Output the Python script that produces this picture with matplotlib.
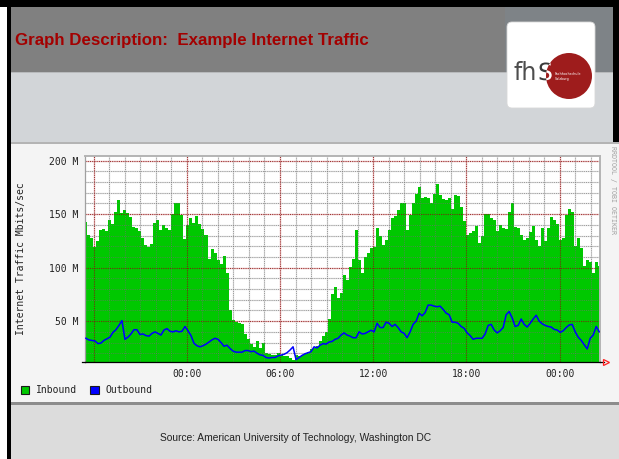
import numpy as np
import matplotlib
matplotlib.use("Agg")
import matplotlib.pyplot as plt
from matplotlib.patches import Rectangle, FancyBboxPatch, Circle, PathPatch
from matplotlib.textpath import TextPath
from matplotlib.font_manager import FontProperties
from matplotlib.transforms import Affine2D

# ---------------- data ----------------
# hours relative to 18:00 of the first day, one sample roughly every 11.6 minutes
inbound = [143, 131, 128, 119, 125, 135, 136, 134, 145, 141, 152, 163, 151, 154, 151, 147, 138, 137, 134, 128,
           121, 119, 122, 142, 145, 135, 140, 137, 135, 150, 160, 160, 149, 127, 140, 146, 142, 148, 141, 136,
           131, 108, 117, 114,
           107, 103, 111, 95, 60, 51, 49, 48, 47, 38, 33, 29, 26, 31, 25, 30, 20, 19, 18, 18,
           20, 18, 17, 17, 16, 14, 18, 17, 18, 19, 21, 23.5, 25, 26.6, 31, 36, 40, 52, 75, 82,
           72, 76, 93,
           88, 101, 108, 135, 107, 95, 110, 114, 118, 119, 137, 130, 121, 126, 135, 146, 148, 154, 160, 160,
           135, 149, 160, 169, 175, 165, 166, 165, 160, 169, 178, 168, 164, 163, 165, 155, 168, 167, 157, 144,
           131, 132, 134,
           139, 123, 130, 150, 150, 146, 144.5, 134, 140, 137, 136, 152, 160, 138, 137, 131, 126, 128, 133, 139,
           126, 120, 137, 125, 137, 147, 145, 141, 126, 128, 149, 155, 152, 120, 128, 118, 102, 107, 105, 95,
           105, 102]
outbound = [34, 32.4, 32, 31.5, 29, 29.5, 32, 33.5, 35, 39.5, 42, 46, 50.5, 33, 35, 38, 42, 42, 37.5, 38,
            36.5, 36, 38.5, 40, 38.5, 37, 41.7, 43, 40.5, 40, 41, 40, 40.5, 45, 41, 36.5, 29.3, 27, 26, 27,
            28.5, 30.5, 32.5, 34,
            33, 30, 26.5, 27.5, 24.5, 22, 21, 21, 21, 22.5, 22.5, 21.5, 22, 20, 18.5, 18, 16, 15.5, 16, 16,
            17.5, 18.3, 19, 20.5, 23, 26, 14, 16, 18, 19.5, 20.5, 21.5, 26, 25, 27.5, 29, 28.5, 30.5, 31, 33,
            34, 37, 39,
            37, 36, 34.5, 34.5, 40, 38, 38.5, 40, 41.5, 40, 48, 44, 44, 49, 48, 45, 47, 44, 40, 38.6,
            34.5, 40, 47, 50, 57.4, 55, 58, 65, 65, 64, 63.5, 64, 61, 57.5, 56, 49, 49, 48, 45, 43.3,
            39, 36.5, 33,
            34, 34, 34, 38, 46, 47, 41.7, 39, 41, 44, 56, 59, 53, 45, 46, 52, 47, 44.5, 48, 52,
            55.5, 50, 47.5, 46, 45, 44.5, 42.3, 41.7, 39.5, 41, 44, 46.4, 47, 40, 35, 32, 28, 24, 34, 37,
            45, 40]
hours = np.linspace(-0.49, 32.55, len(inbound))

series_names = ["Inbound", "Outbound"]
x_major = [0, 6, 12, 18, 24, 30]
x_label_pos = [6, 12, 18, 24, 30]
x_labels = ["00:00", "06:00", "12:00", "18:00", "00:00"]
y_major = [50, 100, 150, 200]
y_labels = ["50 M", "100 M", "150 M", "200 M"]
y_minor = [20, 30, 40, 60, 70, 80, 90, 110, 120, 130, 140, 160, 170, 180, 190]
x_minor = [h for h in range(1, 33) if h % 6 != 0]

title = "Graph Description:  Example Internet Traffic"
source = "Source: American University of Technology, Washington DC"
ylabel = "Internet Traffic Mbits/sec"

GREEN = "#00c800"
BLUE = "#0000ff"
MONO = "DejaVu Sans Mono"

# ---------------- figure & slide background ----------------
W, H = 619, 459
fig = plt.figure(figsize=(W / 100, H / 100), dpi=100)
fig.patch.set_facecolor("white")
bg = fig.add_axes([0, 0, 1, 1])
bg.set_xlim(0, W)
bg.set_ylim(H, 0)
bg.axis("off")

def rect(x0, y0, x1, y1, color, z=0):
    bg.add_patch(Rectangle((x0, y0), x1 - x0, y1 - y0, facecolor=color, edgecolor="none", zorder=z))

rect(0, 0, W, 7, "black")
rect(7, 0, 11, H, "black")
rect(613, 0, W, 143, "black")
rect(11, 7, 613, 72, "#808080")
rect(505, 7, 613, 72, "#7e8387")
rect(11, 72, 613, 73, "#b8babc")
rect(11, 73, 613, 142, "#d2d5d8")
rect(11, 142, W, 143.5, "#b4b4b4")
rect(11, 143.5, W, 402, "#f4f4f4")
rect(11, 402, W, 404.5, "#8c8c8c")
rect(11, 404.5, W, H, "#dcdcdc")

bg.text(15, 40, title, fontsize=12.2, fontweight="bold", color="#a30000",
        family="Liberation Sans", ha="left", va="center")

# logo
bg.add_patch(FancyBboxPatch((507, 22), 88, 86, boxstyle="round,pad=0,rounding_size=5",
                            facecolor="white", edgecolor="#d8d8d8", linewidth=0.6, zorder=1))
bg.text(513, 80, "fh", fontsize=17, color="#4d4d4d", family="DejaVu Sans",
        ha="left", va="baseline", zorder=2)
fp = FontProperties(family="DejaVu Sans")
s_path = TextPath((0, 0), "S", size=23.6, prop=fp)
s_tr = Affine2D().scale(1, -1).translate(538, 80) + bg.transData
bg.add_patch(PathPatch(s_path, transform=s_tr, facecolor="#3a3a3a", edgecolor="none", zorder=2))
circ = Circle((569, 76), 23, facecolor="#9e1c1c", edgecolor="none", zorder=3)
bg.add_patch(circ)
s_white = PathPatch(s_path, transform=s_tr, facecolor="white", edgecolor="none", zorder=4)
bg.add_patch(s_white)
s_white.set_clip_path(circ)
bg.text(555, 74, "Fachhochschule", fontsize=2.4, color="white", ha="left", va="center", zorder=5)
bg.text(555, 79, "Salzburg", fontsize=2.4, color="white", ha="left", va="center", zorder=5)

bg.text(296, 438, source, fontsize=7.4, color="#222222", family="Liberation Sans",
        ha="center", va="center")

# RRDtool side text
bg.text(613, 146, "RRDTOOL / TOBI OETIKER", rotation=-90, fontsize=4.8, color="#a0a0a0",
        family=MONO, ha="center", va="top")

# y label
bg.text(21, 259, ylabel, rotation=90, fontsize=7, family=MONO, color="#222222",
        ha="center", va="center")

# legend
leg_colors = [GREEN, BLUE]
leg_x = [20.7, 90]
for name, c, lx in zip(series_names, leg_colors, leg_x):
    bg.add_patch(Rectangle((lx, 385.5), 8.6, 8.6, facecolor=c, edgecolor="#1a1a1a",
                           linewidth=0.8, zorder=2))
    bg.text(lx + 15.3, 390, name, fontsize=7, family=MONO, color="#222222",
            ha="left", va="center")

# ---------------- chart ----------------
ax = fig.add_axes([85 / W, (H - 362) / H, 515 / W, 206 / H])
ax.set_facecolor("white")
ax.set_xlim(-0.55, 32.6)
ax.set_ylim(11.8, 204.4)

ax.fill_between(hours, 0, inbound, step="mid", color=GREEN, linewidth=0, zorder=1)

for y in y_minor:
    ax.axhline(y, color="#e2e2e2", lw=1.0, zorder=0.5)
    ax.axhline(y, color="#707070", lw=0.7, dashes=(1, 1.2), alpha=0.65, zorder=2)
for x in x_minor:
    ax.axvline(x, color="#e2e2e2", lw=1.0, zorder=0.5)
    ax.axvline(x, color="#707070", lw=0.7, dashes=(1, 1.2), alpha=0.65, zorder=2)
for y in y_major:
    ax.axhline(y, color="#ecc8c8", lw=1.0, zorder=0.5)
    ax.axhline(y, color="#8b1010", lw=0.8, dashes=(1, 1), alpha=0.8, zorder=2)
for x in x_major:
    ax.axvline(x, color="#ecc8c8", lw=1.0, zorder=0.5)
    ax.axvline(x, color="#8b1010", lw=0.8, dashes=(1, 1), alpha=0.8, zorder=2)

ax.plot(hours, outbound, color=BLUE, lw=1.1, zorder=3)

ax.set_xticks(x_label_pos)
ax.set_xticklabels(x_labels, fontsize=7, family=MONO, color="#222222")
ax.set_yticks(y_major)
ax.set_yticklabels(y_labels, fontsize=7, family=MONO, color="#222222")
ax.tick_params(axis="both", length=0)
ax.tick_params(axis="x", pad=5)
ax.tick_params(axis="y", pad=5)

for side in ["top", "right"]:
    ax.spines[side].set_color("#b4b4b4")
    ax.spines[side].set_linewidth(1.4)
ax.spines["left"].set_color("#a0a0a0")
ax.spines["left"].set_linewidth(0.9)
ax.spines["bottom"].set_color("black")
ax.spines["bottom"].set_linewidth(0.9)

# axis arrow and baseline extension (rrdtool style)
ax.plot([-0.006, 0], [0, 0], transform=ax.transAxes, color="black", lw=0.9, clip_on=False, zorder=4)
ax.plot([1.0, 1.008], [0, 0], transform=ax.transAxes, color="black", lw=0.9, clip_on=False, zorder=4)
ax.plot([1.0125], [0], transform=ax.transAxes, marker=">", markersize=5, markerfacecolor="none",
        markeredgecolor="#ff2020", markeredgewidth=0.9, clip_on=False, zorder=4)

fig.savefig("out.png", dpi=100)
